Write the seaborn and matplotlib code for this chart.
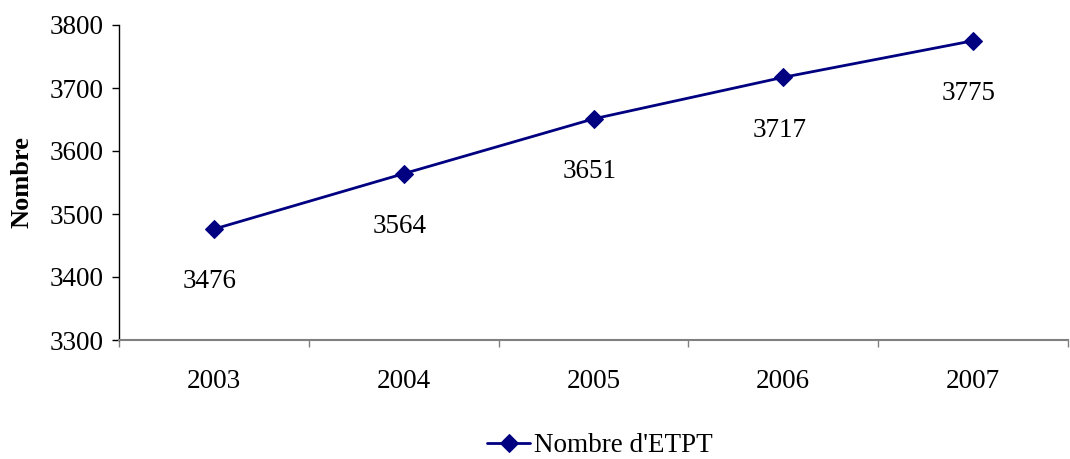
import matplotlib
matplotlib.use("Agg")
import matplotlib.pyplot as plt
import seaborn as sns
import pandas as pd
import numpy as np

years = ["2003", "2004", "2005", "2006", "2007"]
values = [3476, 3564, 3651, 3717, 3775]
series_name = "Nombre d'ETPT"

sns.set_theme(style="white")
plt.rcParams['font.family'] = ['Liberation Serif', 'DejaVu Serif']

df = pd.DataFrame({"year": years, "value": values, "serie": series_name})
df["pos"] = np.arange(len(years))

fig = plt.figure(figsize=(10.70, 4.59), dpi=100)
ax = fig.add_axes([119/1070, 1 - 340/459, (1068 - 119)/1070, (340 - 25)/459])

color = "#000080"
fs = 19.5
sns.lineplot(data=df, x="pos", y="value", hue="serie", palette=[color], marker="D",
             markersize=9, markeredgecolor=color, linewidth=2, ax=ax)

for p, v in zip(df["pos"], df["value"]):
    ax.annotate(str(v), (p, v), xytext=(-3, -38), textcoords="offset points",
                ha="center", va="center", fontsize=fs, color="black")

ax.set_xlim(-0.5, len(years) - 0.5)
ax.set_ylim(3300, 3800)
ax.set_yticks(np.arange(3300, 3801, 100))
ax.set_xticks(df["pos"])
ax.set_xticklabels(years)
ax.set_xticks(np.arange(-0.5, len(years)), minor=True)
ax.tick_params(axis="x", which="major", length=0, pad=21, labelsize=fs, colors="black")
ax.tick_params(axis="x", which="minor", length=5, width=1, color="#808080", direction="out", bottom=True)
ax.tick_params(axis="y", length=5, width=1, color="black", direction="out", left=True, pad=6,
               labelsize=fs, labelcolor="black")

for s in ["top", "right"]:
    ax.spines[s].set_visible(False)
ax.spines["left"].set_color("black")
ax.spines["left"].set_linewidth(1)
ax.spines["bottom"].set_color("#808080")
ax.spines["bottom"].set_linewidth(1.5)

ax.set_xlabel("")
ax.set_ylabel("Nombre", fontsize=19, fontweight="bold", labelpad=12, color="black")

ax.legend_.remove()
handles, labels = ax.get_legend_handles_labels()
fig.legend(handles, labels, loc="center", bbox_to_anchor=(600/1070, 1 - 446/459), frameon=False,
           fontsize=fs, handlelength=1.6, handletextpad=0.15, borderpad=0, labelcolor="black")

fig.savefig("out.png", dpi=100)
